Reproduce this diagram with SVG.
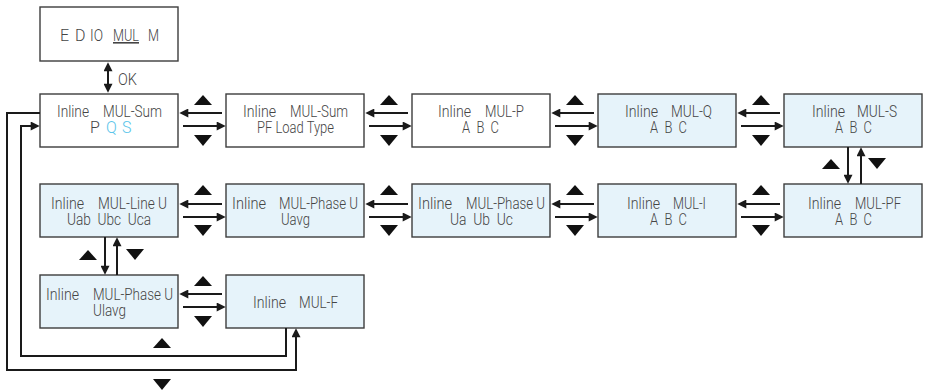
<svg xmlns="http://www.w3.org/2000/svg" width="929" height="392" viewBox="0 0 929 392">
<style>
.box{stroke:#3d3d3d;stroke-width:1.4}
.w{fill:#ffffff}
.b{fill:#e6f3fa}
.t{font-family:Roboto,"Liberation Sans",sans-serif;font-weight:300;font-size:16px;fill:#454545}
.c{fill:#5bc5ea}
.ln{fill:none;stroke:#1a1a1a;stroke-width:2}
.tri{fill:#111111}
</style>
<defs>
<marker id="ah" viewBox="0 0 10 10" refX="7" refY="5" markerWidth="10" markerHeight="9" markerUnits="userSpaceOnUse" orient="auto-start-reverse">
<path d="M0,0 L10,5 L0,10 z" fill="#1a1a1a"/>
</marker>
<path id="up" d="M-9,10 L9,10 L0,0 z"/>
<path id="dn" d="M-9,0 L9,0 L0,11 z"/>
</defs>

<g id="node-menu">
<rect class="box w" x="40" y="7" width="138" height="54"/>
<text class="t" y="41"><tspan x="60">E</tspan><tspan x="75">D</tspan><tspan x="90" textLength="13" lengthAdjust="spacingAndGlyphs">IO</tspan><tspan x="113" textLength="26" lengthAdjust="spacingAndGlyphs" text-decoration="underline">MUL</tspan><tspan x="148" textLength="11" lengthAdjust="spacingAndGlyphs">M</tspan></text>
</g>

<g id="node-sum-pqs">
<rect class="box w" x="40" y="94" width="138" height="53"/>
<text class="t" y="117"><tspan x="57" textLength="32" lengthAdjust="spacingAndGlyphs">Inline</tspan><tspan x="103" textLength="59" lengthAdjust="spacingAndGlyphs">MUL-Sum</tspan></text>
<text class="t" y="133"><tspan x="90">P</tspan><tspan class="c" x="106">Q</tspan><tspan class="c" x="122">S</tspan></text>
</g>

<g id="node-sum-pf">
<rect class="box w" x="226" y="94" width="138" height="53"/>
<text class="t" y="117"><tspan x="243" textLength="33" lengthAdjust="spacingAndGlyphs">Inline</tspan><tspan x="290" textLength="58" lengthAdjust="spacingAndGlyphs">MUL-Sum</tspan></text>
<text class="t" y="133" x="257" textLength="77" lengthAdjust="spacingAndGlyphs">PF Load Type</text>
</g>

<g id="node-p">
<rect class="box w" x="412" y="94" width="138" height="53"/>
<text class="t" y="117"><tspan x="438" textLength="33" lengthAdjust="spacingAndGlyphs">Inline</tspan><tspan x="485" textLength="39" lengthAdjust="spacingAndGlyphs">MUL-P</tspan></text>
<text class="t" y="133" x="462" textLength="37" lengthAdjust="spacingAndGlyphs" xml:space="preserve">A  B  C</text>
</g>

<g id="node-q">
<rect class="box b" x="598" y="94" width="138" height="53"/>
<text class="t" y="117"><tspan x="625" textLength="33" lengthAdjust="spacingAndGlyphs">Inline</tspan><tspan x="671" textLength="41" lengthAdjust="spacingAndGlyphs">MUL-Q</tspan></text>
<text class="t" y="133" x="650" textLength="37" lengthAdjust="spacingAndGlyphs" xml:space="preserve">A  B  C</text>
</g>

<g id="node-s">
<rect class="box b" x="784" y="94" width="138" height="53"/>
<text class="t" y="117"><tspan x="812" textLength="33" lengthAdjust="spacingAndGlyphs">Inline</tspan><tspan x="857" textLength="40" lengthAdjust="spacingAndGlyphs">MUL-S</tspan></text>
<text class="t" y="133" x="835" textLength="37" lengthAdjust="spacingAndGlyphs" xml:space="preserve">A  B  C</text>
</g>

<g id="node-lineu">
<rect class="box b" x="40" y="184" width="138" height="53"/>
<text class="t" y="208.5"><tspan x="51" textLength="33" lengthAdjust="spacingAndGlyphs">Inline</tspan><tspan x="98" textLength="69" lengthAdjust="spacingAndGlyphs">MUL-Line U</tspan></text>
<text class="t" y="224.5" x="67" textLength="84" lengthAdjust="spacingAndGlyphs" xml:space="preserve">Uab  Ubc  Uca</text>
</g>

<g id="node-phaseu-avg">
<rect class="box b" x="226" y="184" width="138" height="53"/>
<text class="t" y="208.5"><tspan x="232" textLength="34" lengthAdjust="spacingAndGlyphs">Inline</tspan><tspan x="279" textLength="79" lengthAdjust="spacingAndGlyphs">MUL-Phase U</tspan></text>
<text class="t" y="224.5" x="281" textLength="29" lengthAdjust="spacingAndGlyphs">Uavg</text>
</g>

<g id="node-phaseu-abc">
<rect class="box b" x="412" y="184" width="138" height="53"/>
<text class="t" y="208.5"><tspan x="418" textLength="34" lengthAdjust="spacingAndGlyphs">Inline</tspan><tspan x="466" textLength="79" lengthAdjust="spacingAndGlyphs">MUL-Phase U</tspan></text>
<text class="t" y="224.5" x="450" textLength="63" lengthAdjust="spacingAndGlyphs" xml:space="preserve">Ua  Ub  Uc</text>
</g>

<g id="node-i">
<rect class="box b" x="598" y="184" width="138" height="53"/>
<text class="t" y="208.5"><tspan x="627" textLength="33" lengthAdjust="spacingAndGlyphs">Inline</tspan><tspan x="673" textLength="33" lengthAdjust="spacingAndGlyphs">MUL-I</tspan></text>
<text class="t" y="224.5" x="650" textLength="37" lengthAdjust="spacingAndGlyphs" xml:space="preserve">A  B  C</text>
</g>

<g id="node-pf">
<rect class="box b" x="784" y="184" width="138" height="53"/>
<text class="t" y="208.5"><tspan x="808" textLength="33" lengthAdjust="spacingAndGlyphs">Inline</tspan><tspan x="855" textLength="46" lengthAdjust="spacingAndGlyphs">MUL-PF</tspan></text>
<text class="t" y="224.5" x="835" textLength="37" lengthAdjust="spacingAndGlyphs" xml:space="preserve">A  B  C</text>
</g>

<g id="node-phaseu-lavg">
<rect class="box b" x="40" y="275" width="138" height="53"/>
<text class="t" y="299.5"><tspan x="46" textLength="33" lengthAdjust="spacingAndGlyphs">Inline</tspan><tspan x="93" textLength="80" lengthAdjust="spacingAndGlyphs">MUL-Phase U</tspan></text>
<text class="t" y="315.5" x="93" textLength="33" lengthAdjust="spacingAndGlyphs">Ulavg</text>
</g>

<g id="node-f">
<rect class="box b" x="226" y="275" width="138" height="53"/>
<text class="t" y="308"><tspan x="253" textLength="33" lengthAdjust="spacingAndGlyphs">Inline</tspan><tspan x="299" textLength="39" lengthAdjust="spacingAndGlyphs">MUL-F</tspan></text>
</g>

<g id="connectors">
<path class="ln" d="M108,65 V90" marker-start="url(#ah)" marker-end="url(#ah)"/>
<text class="t" x="118" y="85" style="font-size:17px" textLength="19" lengthAdjust="spacingAndGlyphs">OK</text>

<path class="ln" d="M222,113 H182" marker-end="url(#ah)"/>
<path class="ln" d="M183,126 H223" marker-end="url(#ah)"/>
<path class="ln" d="M408,113 H368" marker-end="url(#ah)"/>
<path class="ln" d="M369,126 H409" marker-end="url(#ah)"/>
<path class="ln" d="M594,113 H554" marker-end="url(#ah)"/>
<path class="ln" d="M555,126 H595" marker-end="url(#ah)"/>
<path class="ln" d="M780,113 H740" marker-end="url(#ah)"/>
<path class="ln" d="M741,126 H781" marker-end="url(#ah)"/>

<path class="ln" d="M222,204 H182" marker-end="url(#ah)"/>
<path class="ln" d="M183,217 H223" marker-end="url(#ah)"/>
<path class="ln" d="M408,204 H368" marker-end="url(#ah)"/>
<path class="ln" d="M369,217 H409" marker-end="url(#ah)"/>
<path class="ln" d="M594,204 H554" marker-end="url(#ah)"/>
<path class="ln" d="M555,217 H595" marker-end="url(#ah)"/>
<path class="ln" d="M780,204 H740" marker-end="url(#ah)"/>
<path class="ln" d="M741,217 H781" marker-end="url(#ah)"/>

<path class="ln" d="M222,294 H182" marker-end="url(#ah)"/>
<path class="ln" d="M183,307 H223" marker-end="url(#ah)"/>

<path class="ln" d="M848,147 V181" marker-end="url(#ah)"/>
<path class="ln" d="M861,184 V150" marker-end="url(#ah)"/>
<path class="ln" d="M105,237 V272" marker-end="url(#ah)"/>
<path class="ln" d="M117,275 V240" marker-end="url(#ah)"/>

<path class="ln" d="M40,113 H7 V370 H296 V331" marker-end="url(#ah)"/>
<path class="ln" d="M286,328 V356 H21 V126 H37" marker-end="url(#ah)"/>

<g class="tri">
<use href="#up" x="203" y="95"/><use href="#dn" x="203" y="135"/>
<use href="#up" x="389" y="95"/><use href="#dn" x="389" y="135"/>
<use href="#up" x="575" y="95"/><use href="#dn" x="575" y="135"/>
<use href="#up" x="761" y="95"/><use href="#dn" x="761" y="135"/>
<use href="#up" x="203" y="185"/><use href="#dn" x="203" y="225"/>
<use href="#up" x="389" y="185"/><use href="#dn" x="389" y="225"/>
<use href="#up" x="575" y="185"/><use href="#dn" x="575" y="225"/>
<use href="#up" x="761" y="185"/><use href="#dn" x="761" y="225"/>
<use href="#up" x="203" y="276"/><use href="#dn" x="203" y="316"/>
<use href="#up" x="831" y="159"/><use href="#dn" x="877" y="158"/>
<use href="#up" x="88" y="250"/><use href="#dn" x="135" y="249"/>
<use href="#up" x="162" y="338"/><use href="#dn" x="162" y="379"/>
</g>
</g>
</svg>
